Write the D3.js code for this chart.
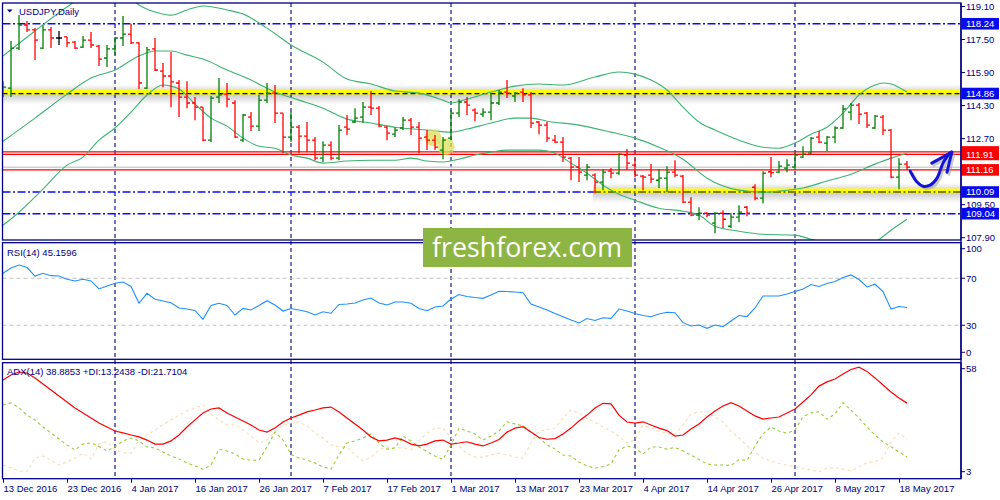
<!DOCTYPE html>
<html>
<head>
<meta charset="utf-8">
<script src="https://cdnjs.cloudflare.com/ajax/libs/d3/7.8.5/d3.min.js"></script>
<style>
  body { margin: 0; background: #fff; }
  svg { display: block; }
  text { font-family: "Liberation Sans", Arial, sans-serif; }
</style>
</head>
<body>
<svg id="chart" width="1000" height="500"></svg>
<script>
// trading days shown on the chart (weekdays 13 Dec 2016 .. 19 May 2017)
var dates = d3.timeDay.range(new Date(2016, 11, 13), new Date(2017, 4, 20))
    .filter(function(d) { return d.getDay() !== 0 && d.getDay() !== 6; });

var tickLabels = ["13 Dec 2016", "23 Dec 2016", "4 Jan 2017", "16 Jan 2017", "26 Jan 2017",
    "7 Feb 2017", "17 Feb 2017", "1 Mar 2017", "13 Mar 2017", "23 Mar 2017", "4 Apr 2017",
    "14 Apr 2017", "26 Apr 2017", "8 May 2017", "18 May 2017"];

var open = [115.08,115.12,117.06,118.18,117.94,117.06,117.94,117.55,117.60,117.35,117.11,117.45,117.16,116.58,117.02,117.55,117.74,117.31,115.12,117.02,
    115.95,115.71,115.37,114.69,114.40,114.20,112.60,114.69,114.83,114.40,112.60,113.72,113.28,114.54,114.88,113.91,112.75,113.23,112.80,112.60,
    111.73,112.36,111.73,113.23,113.48,113.72,114.20,114.15,113.23,112.89,113.19,113.57,113.23,112.75,112.60,112.12,112.70,113.91,114.45,114.06,
    113.86,113.96,114.40,114.93,114.74,114.93,114.79,113.48,113.33,112.60,112.51,111.73,111.29,110.91,110.91,110.57,111.10,111.00,111.88,111.39,
    110.86,110.91,110.66,110.76,111.05,110.86,109.60,108.97,109.06,108.58,109.06,108.43,108.87,109.35,110.32,109.79,111.07,111.05,111.25,111.29,
    111.78,111.97,112.75,112.46,112.75,113.19,113.96,114.30,113.91,113.19,113.72,113.09,110.81,111.44];
var high = [115.46,117.40,118.66,118.37,118.03,118.18,118.08,117.89,117.60,117.40,117.65,117.84,117.21,117.21,117.60,118.62,118.23,117.35,117.11,117.55,
    116.34,116.87,115.51,115.46,114.69,114.20,114.74,115.61,115.37,114.54,113.86,113.96,114.79,115.37,115.27,113.91,113.96,113.33,113.48,112.75,
    112.55,112.55,113.33,113.82,114.15,114.45,114.98,114.25,113.28,113.23,113.72,113.67,113.48,113.09,112.85,112.75,114.06,114.59,114.69,114.15,
    114.15,114.88,115.03,115.51,114.93,115.12,114.93,113.52,113.48,112.85,112.75,111.78,111.78,111.44,111.00,111.20,111.25,111.97,112.17,111.73,
    110.91,111.44,111.20,111.34,111.63,110.91,109.84,109.35,109.11,109.11,109.21,109.06,109.45,109.40,110.47,111.10,111.78,111.59,111.68,111.97,
    112.31,112.75,113.04,112.80,113.28,114.30,114.40,114.40,113.96,113.82,113.82,113.14,111.73,111.59];
var low = [114.69,114.69,116.97,117.84,116.48,117.02,117.06,117.21,117.11,117.02,117.06,117.06,116.19,116.14,116.72,117.16,117.26,115.08,115.08,115.95,
    115.17,114.20,113.72,114.15,113.57,112.55,112.51,114.40,114.20,112.70,112.51,113.04,113.04,114.40,113.43,111.97,112.51,111.97,112.02,111.63,
    111.54,111.63,111.63,112.85,113.43,113.43,113.82,113.23,112.60,112.75,113.09,112.85,111.97,112.12,112.12,111.68,112.60,113.72,113.82,113.52,
    113.72,113.57,114.30,114.64,114.45,114.45,113.19,112.89,112.51,112.46,111.54,110.66,110.57,110.66,110.03,110.18,110.76,110.91,111.15,110.81,
    110.18,110.52,110.28,110.08,110.81,109.55,108.92,108.72,108.87,108.09,108.34,108.34,108.63,108.92,109.69,109.55,110.81,111.00,111.05,111.15,
    111.75,111.93,112.46,112.07,112.46,113.15,113.57,113.38,113.19,113.15,112.85,110.76,110.23,111.15];
var close = [115.17,117.06,118.18,117.94,117.45,117.94,117.55,117.55,117.31,117.06,117.45,117.21,116.53,117.02,117.55,117.74,117.31,115.37,116.97,116.00,
    115.71,115.42,114.69,114.40,114.20,112.60,114.64,114.79,114.59,112.75,113.82,113.28,114.54,114.88,113.91,112.75,113.23,112.80,112.60,111.73,
    112.36,111.73,113.09,113.14,113.67,114.20,114.15,113.28,112.94,113.09,113.57,113.23,112.70,112.60,112.26,112.60,113.91,114.45,114.30,113.91,
    113.96,114.40,114.93,114.88,114.88,114.79,113.43,113.33,112.70,112.51,111.78,111.29,111.05,111.29,110.57,111.05,111.00,111.92,111.49,110.91,
    110.81,110.71,110.76,111.05,110.91,109.60,108.97,109.06,108.97,109.06,108.77,108.87,109.11,109.06,109.79,111.00,111.03,111.34,111.39,111.88,
    111.92,112.70,112.51,112.75,113.19,114.11,114.30,113.86,113.33,113.77,113.09,110.81,111.44,111.29];

// Bollinger bands: [bar index, price]
var bbUpper = [[0,116.68],[4,117.89],[8,119.05],[12,119.97],[15,119.78],[17,119.15],[19,118.81],[21,118.66],[23,118.91],[25,119.10],
    [28,118.91],[30,118.71],[33,118.03],[36,117.21],[40,116.38],[43,115.56],[46,115.32],[49,114.98],[52,114.88],[55,114.54],[56,114.40],
    [58,114.59],[61,114.93],[64,115.22],[67,115.32],[70,115.27],[74,115.66],[77,115.90],[79,115.80],[81,115.51],[83,115.03],[85,114.20],
    [87,113.48],[89,113.09],[92,112.60],[95,112.26],[97,112.21],[99,112.46],[101,112.89],[103,113.23],[105,113.91],[107,114.79],[109,115.27],
    [110,115.37],[111,115.32],[113,114.93]];
var bbMiddle = [[0,112.55],[4,113.67],[8,114.83],[11,115.61],[14,116.00],[17,116.68],[19,116.92],[21,116.92],[23,116.72],[25,116.53],
    [28,116.00],[31,115.51],[34,114.93],[37,114.54],[40,114.15],[43,113.62],[46,113.43],[49,113.23],[53,113.09],[56,112.99],[58,113.14],
    [61,113.43],[64,113.67],[66,113.67],[68,113.52],[72,113.33],[76,112.99],[79,112.70],[82,112.26],[85,111.68],[88,110.76],[92,110.18],
    [95,110.08],[97,110.13],[100,110.28],[103,110.62],[106,110.95],[109,111.44],[111,111.73],[113,111.97]];
var bbLower = [[0,108.48],[2,109.11],[5,110.23],[8,111.39],[10,111.78],[12,112.60],[14,113.19],[16,113.96],[18,114.79],[20,115.27],
    [21,115.22],[22,115.08],[24,114.35],[26,113.67],[28,113.28],[30,112.70],[32,112.31],[34,112.21],[36,111.88],[38,111.73],[40,111.49],
    [43,111.59],[46,111.63],[49,111.63],[51,111.73],[53,111.59],[55,111.54],[57,111.68],[59,111.88],[61,112.02],[63,112.12],[65,112.12],
    [67,112.12],[69,111.97],[71,111.49],[73,111.00],[75,110.42],[77,109.98],[79,109.69],[82,109.30],[85,109.16],[87,108.97],[89,108.43],
    [92,108.19],[95,108.04],[99,108.00],[101,107.80],[103,107.61],[105,107.41],[107,107.36],[109,107.66],[111,108.24],[113,108.77]];

var rsi = [74.2,78.7,81.3,79.1,71.9,74.2,72.2,71.9,69.1,67.7,69.1,67.7,60.9,63.4,65.7,66.8,63.0,48.7,57.2,52.1,
    50.6,49.2,44.7,43.8,42.6,35.1,46.8,48.7,46.8,38.7,44.3,43.0,46.8,50.9,47.2,42.1,44.3,43.0,41.5,38.7,
    41.5,40.2,47.7,48.1,48.9,51.5,53.2,48.9,47.2,49.8,49.8,48.7,44.3,42.4,45.5,46.4,52.3,56.2,54.5,53.6,
    52.9,55.7,58.9,58.7,58.3,57.7,48.1,45.5,43.0,40.0,37.3,34.5,31.9,35.7,34.0,36.4,35.9,43.8,42.1,40.0,
    38.3,37.3,39.6,41.0,40.7,32.2,29.4,30.2,27.4,30.2,28.8,33.6,38.3,37.4,44.7,54.9,54.9,54.9,56.6,58.7,
    60.9,64.7,63.0,65.5,67.2,70.6,72.8,68.9,62.6,64.9,58.6,43.8,46.0,45.16];

var adx = [49.9,52.3,53.7,53.2,50.9,48.0,45.1,42.3,39.4,36.6,34.2,31.8,29.4,27.5,25.6,24.7,23.7,22.8,21.3,19.4,
    19.4,20.9,23.7,27.5,30.9,34.2,36.1,36.6,34.2,32.3,30.4,28.5,26.1,25.1,27.0,29.9,31.8,33.2,34.7,35.6,
    36.6,37.0,34.7,31.8,29.0,26.1,22.8,20.9,21.3,22.3,21.3,19.4,18.5,19.4,20.9,21.3,19.4,19.9,20.5,19.4,
    18.5,19.9,21.6,25.1,27.0,27.7,25.1,22.5,21.7,22.0,24.2,27.0,30.4,33.2,36.6,38.8,38.5,33.2,29.9,29.4,
    30.0,28.5,27.0,25.8,23.2,23.7,26.6,29.0,32.3,35.1,37.5,39.1,37.5,35.1,32.8,31.3,31.8,32.3,34.2,36.1,
    39.4,42.8,47.0,49.0,50.4,52.8,54.9,56.0,54.0,50.9,47.5,44.2,41.3,38.89];
var plusDI = [38.0,39.0,36.6,33.2,30.9,27.5,24.7,21.8,19.0,16.6,19.4,20.0,18.2,16.1,18.1,20.9,22.3,20.9,18.0,17.5,
    15.6,13.7,12.3,10.4,9.0,7.4,9.4,17.0,16.1,14.7,12.3,11.6,11.8,18.1,25.1,21.3,14.4,12.8,11.8,10.4,
    8.5,7.5,14.2,19.9,20.9,22.3,24.2,19.9,17.0,17.5,23.2,20.9,18.0,15.8,13.7,12.1,19.0,26.9,25.6,24.2,
    21.3,23.2,25.6,30.0,29.0,28.1,25.1,22.3,19.0,17.0,14.2,13.7,10.9,9.0,7.9,8.7,9.9,16.6,18.5,17.5,
    14.7,18.0,18.0,17.0,17.8,16.1,14.2,12.0,9.9,9.4,9.4,9.2,12.0,11.6,18.5,24.2,27.5,25.6,24.5,26.1,
    32.4,34.2,34.8,31.3,33.7,39.1,35.6,31.8,27.5,23.7,20.5,18.1,15.6,13.24];
var minusDI = [9.4,8.0,6.6,6.2,12.8,13.7,11.8,9.4,10.9,12.8,15.0,12.3,19.4,20.5,16.6,15.4,15.0,21.3,23.7,26.1,
    28.5,30.9,33.2,35.1,36.6,38.0,33.7,30.9,28.5,29.0,26.1,23.2,19.9,21.3,25.1,28.5,29.4,29.9,28.0,24.7,
    22.3,19.0,18.0,18.1,14.2,11.3,13.2,16.6,18.0,17.8,17.5,16.6,20.9,24.5,27.0,27.0,22.3,18.5,15.0,13.2,
    13.2,14.2,15.0,14.2,13.2,12.6,19.9,25.6,26.3,27.0,31.8,35.6,34.2,31.6,29.9,27.5,25.6,23.0,19.9,21.3,
    28.5,27.0,25.6,24.5,24.0,28.5,33.7,34.8,34.8,32.3,29.9,25.6,22.3,18.5,15.6,12.6,11.3,10.1,9.4,8.5,
    7.9,7.0,6.1,8.0,8.2,7.5,6.6,8.5,10.6,10.9,12.8,20.4,24.7,21.71];

var priceTicks = [119.10, 117.50, 115.90, 114.30, 112.70, 109.50, 107.90];
var rsiTicks = [100, 70, 30, 0];
var rsiLevels = [70, 30];
var adxTicks = [58, 3];

// horizontal levels drawn on the price panel
var blueLevels = [118.24, 109.04];
var yellowLevels = [{ v: 114.86, from: 0 }, { v: 110.09, from: 73.75 }];
var redLevels = [112.03, 111.91, 111.16];
var bidPrice = 111.29;
var blueBoxes = [118.24, 114.86, 110.09, 109.04];
var redBoxes = [111.91, 111.16];
var hiddenRedBox = 112.03;   // label almost covered by the 111.91 one
var highlight = [[53.75, 112.72], [55.4, 112.28]];
var arrowPath = [[113.4, 111.10], [114.25, 110.57], [115.0, 110.37], [115.9, 110.42], [116.75, 110.76], [117.5, 111.49], [118.3, 111.95]];
var arrowHead = [[[116.1, 111.49], [118.6, 112.02]], [[118.0, 111.05], [118.6, 112.02]]];

var navy = "#000080";
var svg = d3.select("#chart");

var panelLeft = 2.5, panelRight = 961;
var mainTop = 3, mainBottom = 240, rsiTop = 242.7, rsiBottom = 359.3, adxTop = 362.7, adxBottom = 478.7;

var x = d3.scaleLinear().domain([0, 113]).range([3, 907]);
var yP = d3.scaleLinear().domain([107.9, 119.1]).range([237.2, 6]);
var yR = d3.scaleLinear().domain([0, 100]).range([360.5, 243]);
var yA = d3.scaleLinear().domain([3, 58]).range([478.5, 363]);

var defs = svg.append("defs");
defs.append("clipPath").attr("id", "clipMain").append("rect")
    .attr("x", panelLeft).attr("y", mainTop).attr("width", panelRight - panelLeft).attr("height", mainBottom - mainTop);
var grad = defs.append("linearGradient").attr("id", "glow").attr("x1", 0).attr("y1", 0).attr("x2", 0).attr("y2", 1);
grad.append("stop").attr("offset", "0%").attr("stop-color", "#000").attr("stop-opacity", 0);
grad.append("stop").attr("offset", "45%").attr("stop-color", "#000").attr("stop-opacity", 0.22);
grad.append("stop").attr("offset", "100%").attr("stop-color", "#000").attr("stop-opacity", 0);

// month separators
var sepIdx = d3.range(1, dates.length).filter(function(i) { return dates[i].getMonth() !== dates[i - 1].getMonth(); });
svg.append("g").selectAll("line").data(sepIdx).enter().append("line")
    .attr("x1", function(d) { return x(d); }).attr("x2", function(d) { return x(d); })
    .attr("y1", mainTop).attr("y2", adxBottom)
    .attr("stroke", navy).attr("stroke-width", 1.1).attr("stroke-dasharray", "4,3");

// ---------- main panel ----------
var main = svg.append("g").attr("clip-path", "url(#clipMain)");

main.selectAll(".blue").data(blueLevels).enter().append("line")
    .attr("x1", panelLeft).attr("x2", panelRight)
    .attr("y1", function(d) { return yP(d); }).attr("y2", function(d) { return yP(d); })
    .attr("stroke", "#0a0aff").attr("stroke-width", 1.5).attr("stroke-dasharray", "8,2.5,2,2.5");

// left part of the 110.09 level is a plain blue dash-dot line
main.append("line")
    .attr("x1", panelLeft).attr("x2", x(yellowLevels[1].from))
    .attr("y1", yP(110.09)).attr("y2", yP(110.09))
    .attr("stroke", "#0a0aff").attr("stroke-width", 1.5).attr("stroke-dasharray", "8,2.5,2,2.5");

yellowLevels.forEach(function(l, k) {
    var y0 = yP(l.v), x0 = l.from === 0 ? panelLeft : x(l.from);
    main.append("rect").attr("x", x0).attr("y", y0 - 9).attr("width", panelRight - x0).attr("height", 20)
        .attr("fill", "url(#glow)");
    main.append("rect").attr("x", x0).attr("y", y0 - 3.5).attr("width", panelRight - x0).attr("height", 4.5)
        .attr("fill", "#ffff00");
    main.append("line").attr("x1", x0).attr("x2", panelRight).attr("y1", y0).attr("y2", y0)
        .attr("stroke", k === 0 ? navy : "#000").attr("stroke-width", 1.2)
        .attr("stroke-dasharray", k === 0 ? "5,3" : "8,2.5,2,2.5");
});

main.append("line").attr("x1", panelLeft).attr("x2", panelRight)
    .attr("y1", yP(bidPrice)).attr("y2", yP(bidPrice))
    .attr("stroke", "#d0d0d0").attr("stroke-width", 1.5);

main.selectAll(".red").data(redLevels).enter().append("line")
    .attr("x1", panelLeft).attr("x2", panelRight)
    .attr("y1", function(d) { return yP(d); }).attr("y2", function(d) { return yP(d); })
    .attr("stroke", "#ff0000").attr("stroke-width", 1.3);

var bbLine = d3.line().x(function(d) { return x(d[0]); }).y(function(d) { return yP(d[1]); }).curve(d3.curveMonotoneX);
[bbUpper, bbMiddle, bbLower].forEach(function(band) {
    main.append("path").datum(band).attr("d", bbLine)
        .attr("fill", "none").attr("stroke", "#3cb371").attr("stroke-width", 1.1);
});

main.selectAll(".hl").data(highlight).enter().append("circle")
    .attr("cx", function(d) { return x(d[0]); }).attr("cy", function(d) { return yP(d[1]); })
    .attr("r", 8.5).attr("fill", "#dede5a").attr("opacity", 0.75);

var bars = main.append("g").selectAll("g").data(dates).enter().append("g")
    .attr("stroke", function(d, i) {
        return close[i] > open[i] ? "#008000" : (close[i] < open[i] ? "#ff0000" : "#000");
    })
    .attr("stroke-width", 1.3);
bars.append("line")
    .attr("x1", function(d, i) { return x(i); }).attr("x2", function(d, i) { return x(i); })
    .attr("y1", function(d, i) { return yP(high[i]); }).attr("y2", function(d, i) { return yP(low[i]); });
bars.append("line")
    .attr("x1", function(d, i) { return x(i) - 3; }).attr("x2", function(d, i) { return x(i); })
    .attr("y1", function(d, i) { return yP(open[i]); }).attr("y2", function(d, i) { return yP(open[i]); });
bars.append("line")
    .attr("x1", function(d, i) { return x(i); }).attr("x2", function(d, i) { return x(i) + 3; })
    .attr("y1", function(d, i) { return yP(close[i]); }).attr("y2", function(d, i) { return yP(close[i]); });

// hand drawn arrow
var arrowLine = d3.line().x(function(d) { return x(d[0]); }).y(function(d) { return yP(d[1]); }).curve(d3.curveCatmullRom);
[["#9a9a9a", 2, 0.5], ["#1414d8", 0, 1]].forEach(function(s) {
    var g = main.append("g").attr("transform", "translate(" + s[1] + "," + s[1] + ")").attr("opacity", s[2])
        .attr("fill", "none").attr("stroke", s[0]).attr("stroke-width", 3).attr("stroke-linecap", "round");
    g.append("path").datum(arrowPath).attr("d", arrowLine);
    arrowHead.forEach(function(seg) { g.append("path").datum(seg).attr("d", d3.line().x(function(d) { return x(d[0]); }).y(function(d) { return yP(d[1]); })); });
});

// ---------- RSI panel ----------
svg.append("g").selectAll("line").data(rsiLevels).enter().append("line")
    .attr("x1", panelLeft).attr("x2", panelRight)
    .attr("y1", function(d) { return yR(d); }).attr("y2", function(d) { return yR(d); })
    .attr("stroke", "#c0c0c0").attr("stroke-dasharray", "4,3");
svg.append("path").datum(rsi)
    .attr("d", d3.line().x(function(d, i) { return x(i); }).y(function(d) { return yR(d); }))
    .attr("fill", "none").attr("stroke", "#1e90ff").attr("stroke-width", 1.1);

// ---------- ADX panel ----------
var adxLine = d3.line().x(function(d, i) { return x(i); }).y(function(d) { return yA(d); });
svg.append("path").datum(minusDI).attr("d", adxLine)
    .attr("fill", "none").attr("stroke", "#f5deb3").attr("stroke-width", 1.1).attr("stroke-dasharray", "3,3");
svg.append("path").datum(plusDI).attr("d", adxLine)
    .attr("fill", "none").attr("stroke", "#9acd32").attr("stroke-width", 1.1).attr("stroke-dasharray", "3,3");
svg.append("path").datum(adx).attr("d", adxLine)
    .attr("fill", "none").attr("stroke", "#ff0000").attr("stroke-width", 1.2);

// ---------- frames ----------
[[mainTop, mainBottom], [rsiTop, rsiBottom], [adxTop, adxBottom]].forEach(function(p) {
    svg.append("rect").attr("x", panelLeft).attr("y", p[0]).attr("width", panelRight - panelLeft).attr("height", p[1] - p[0])
        .attr("fill", "none").attr("stroke", navy).attr("stroke-width", 1.3);
});

// ---------- axes ----------
function styleAxis(g) {
    g.select(".domain").remove();
    g.selectAll(".tick line").attr("stroke", navy);
    g.selectAll(".tick text").attr("fill", navy).style("font-size", "9.5px");
}

svg.append("g").attr("transform", "translate(" + panelRight + ",0)")
    .call(d3.axisRight(yP).tickValues(priceTicks).tickSize(4).tickPadding(1).tickFormat(d3.format(".2f")))
    .call(styleAxis);

svg.append("rect").attr("x", panelRight + 1).attr("y", yP(hiddenRedBox) - 5.8)
    .attr("width", 37).attr("height", 11.6).attr("fill", "#ff0000");

function boxes(list, color) {
    var g = svg.append("g").selectAll("g").data(list).enter().append("g");
    g.append("rect").attr("x", panelRight + 1).attr("y", function(d) { return yP(d) - 5.8; })
        .attr("width", 37).attr("height", 11.6).attr("fill", color);
    g.append("text").attr("x", panelRight + 5).attr("y", function(d) { return yP(d) + 3.5; })
        .attr("fill", "#fff").style("font-size", "9.5px").text(d3.format(".2f"));
}
boxes(blueBoxes, "#0a0aee");
boxes(redBoxes, "#ff0000");

function sideLabels(scale, ticks, top, bottom) {
    var g = svg.append("g").selectAll("g").data(ticks).enter().append("g");
    g.append("line").attr("x1", panelRight).attr("x2", panelRight + 4)
        .attr("y1", function(d) { return Math.min(Math.max(scale(d), top + 6), bottom - 7); })
        .attr("y2", function(d) { return Math.min(Math.max(scale(d), top + 6), bottom - 7); })
        .attr("stroke", navy);
    g.append("text").attr("x", panelRight + 5)
        .attr("y", function(d) { return Math.min(Math.max(scale(d), top + 6), bottom - 7) + 3.5; })
        .attr("fill", navy).style("font-size", "9.5px").text(function(d) { return d; });
}
sideLabels(yR, rsiTicks, rsiTop, rsiBottom);
sideLabels(yA, adxTicks, adxTop, adxBottom);

var fmt = d3.timeFormat("%-d %b %Y");
var tickIdx = tickLabels.map(function(l) { return dates.findIndex(function(d) { return fmt(d) === l; }); });
svg.append("g").attr("transform", "translate(0," + adxBottom + ")")
    .call(d3.axisBottom(x).tickValues(tickIdx).tickSize(4).tickPadding(3)
        .tickFormat(function(d, k) { return tickLabels[k]; }))
    .call(styleAxis)
    .selectAll(".tick text").attr("text-anchor", "start");

svg.append("line").attr("x1", panelRight).attr("x2", panelRight).attr("y1", mainTop).attr("y2", adxBottom)
    .attr("stroke", navy).attr("stroke-width", 1.3);

// ---------- titles ----------
svg.append("path").attr("d", "M7,9.5 L12.5,9.5 L9.75,12.5 Z").attr("fill", navy);
svg.append("text").attr("x", 19).attr("y", 14.5).attr("fill", navy).style("font-size", "9.5px").text("USDJPY,Daily");
svg.append("text").attr("x", 7).attr("y", 255.5).attr("fill", navy).style("font-size", "9.5px").text("RSI(14) 45.1596");
svg.append("text").attr("x", 7).attr("y", 374.5).attr("fill", navy).style("font-size", "9.5px")
    .text("ADX(14) 38.8853 +DI:13.2438 -DI:21.7104");

// ---------- watermark ----------
svg.append("rect").attr("x", 423).attr("y", 228).attr("width", 209).attr("height", 39).attr("fill", "#8db543");
svg.append("text").attr("x", 432).attr("y", 257).attr("fill", "#fff")
    .attr("textLength", 190).attr("lengthAdjust", "spacingAndGlyphs")
    .style("font-family", "'Open Sans', 'Noto Sans', sans-serif").style("font-size", "28px")
    .text("freshforex.com");
</script>
</body>
</html>
